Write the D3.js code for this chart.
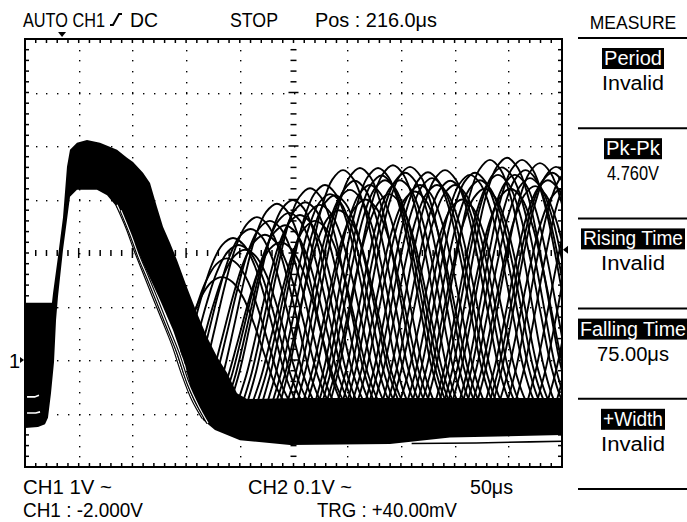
<!DOCTYPE html>
<html>
<head>
<meta charset="utf-8">
<style>
  body { margin: 0; background: #fff; }
  svg text { font-family: "Liberation Sans", Arimo, sans-serif; font-size: 20px; fill: #000; }
</style>
</head>
<body>
<svg id="scope" width="687" height="522"></svg>
<script src="https://cdn.jsdelivr.net/npm/d3@7/dist/d3.min.js"></script>
<script>
// time in us (50 us/div, 10 div across), CH1 in volts (1 V/div, ground 2 div under centre)
// persistence display: outer edge of the main pulse band, [t, V]
const envTop = [
  [0, 1.07], [25.1, 1.07], [26.1, 1.25], [30.7, 1.93], [35.4, 2.67], [39.1, 3.61],
  [41.9, 3.93], [48.4, 4.06], [57.7, 4.11], [69.8, 4.06], [85.7, 3.93], [95.0, 3.78],
  [100.6, 3.70], [109.9, 3.50], [116.4, 3.31], [122.9, 2.86], [128.5, 2.49], [135.0, 2.19],
  [141.5, 1.87], [150.8, 1.36], [160.1, 0.88], [169.5, 0.43], [178.8, 0.06], [188.1, -0.24],
  [197.4, -0.62], [206.7, -0.73], [256.1, -0.71], [500, -0.71]
];
// inner / lower edge of the same band
const envBottom = [
  [0, -1.27], [12.1, -1.25], [18.6, -1.20], [21.4, -1.08], [24.2, -0.62], [27.0, -0.04],
  [28.9, 0.75], [30.7, 1.18], [35.4, 2.06], [39.1, 2.62], [41.9, 3.05], [48.4, 3.18],
  [67.0, 3.18], [76.4, 3.08], [83.8, 2.90], [95.0, 2.52], [109.9, 1.81], [125.7, 1.12],
  [137.8, 0.56], [149.0, -0.09], [156.4, -0.69], [165.7, -1.12], [176.9, -1.31],
  [200.2, -1.50], [246.7, -1.59], [339.8, -1.57], [395.7, -1.45], [500, -1.40]
];
// two stray falling traces inside the arch
const strayA = [[85.7, 2.90], [95, 2.47], [102.4, 2.06], [109.9, 1.68], [119.2, 1.21],
  [128.5, 0.75], [137.8, 0.28], [147.1, -0.28], [156.4, -0.75], [165.7, -1.08]];
const strayB = [[89.4, 2.80], [98.7, 2.34], [106.1, 1.93], [114.5, 1.53], [123.8, 1.07],
  [133.1, 0.60], [142.5, 0.13], [151.8, -0.43], [161.1, -0.84], [170.4, -1.18]];
const lowTrace = [[360, -1.56], [420, -1.55], [470, -1.53], [500, -1.52]];
// gaps in the pre-trigger block
const gapA = [[1.9, -0.69], [9, -0.69], [13, -0.66]];
const gapB = [[1.9, -0.99], [10, -0.99], [14, -0.97]];

// ringing pulses on the right: peak time (us) and peak level (V)
const pulsePeakT = [193.7, 216.0, 234.6, 249.5, 265.4, 279.3, 296.1, 311.9, 328.7, 342.6,
  358.5, 375.2, 391.1, 414.3, 432.9, 448.8, 462.8, 479.5, 494.4,
  183.4, 204.8, 223.4, 242.1, 256.0, 274.6, 288.6, 302.6, 321.2, 335.2, 349.1,
  367.8, 383.6, 400.3, 423.6, 440.4, 456.2, 470.2, 486.9, 507.4, 526.0, 544.7,
  188, 199, 210, 228, 238, 246, 261, 270, 284, 292, 307, 317, 332, 339, 354,
  363, 379, 396, 407, 419, 428, 444, 452, 466, 475, 491, 500, 515, 535, 553];
const pulsePeakV = [2.28, 2.67, 2.92, 2.99, 3.21, 3.27, 3.55, 3.59, 3.59, 3.64,
  3.61, 3.51, 3.55, 3.46, 3.74, 3.78, 3.74, 3.68, 3.61,
  1.55, 2.06, 2.34, 2.52, 2.71, 2.90, 3.08, 3.18, 3.27, 3.36, 3.36,
  3.27, 3.27, 3.27, 3.36, 3.46, 3.46, 3.40, 3.36, 3.55, 3.46, 3.36,
  1.9, 2.15, 2.45, 2.6, 2.2, 2.75, 2.95, 2.6, 3.1, 2.8, 3.35, 3.0, 3.45, 3.1, 3.5,
  3.15, 3.4, 3.35, 3.0, 3.5, 3.2, 3.6, 3.2, 3.55, 3.25, 3.5, 3.2, 3.6, 3.5, 3.4];
// one pulse: offset from its peak (us) and fraction of its height
const pulseShapeDt = [-60, -50, -40, -30, -20, -10, 0, 10, 20, 30, 40, 50, 60, 66];
const pulseShapeH = [0, 0.17, 0.4, 0.64, 0.84, 0.96, 1, 0.96, 0.84, 0.64, 0.4, 0.17, 0.03, 0];
const pulseBase = -0.9;

const trigT = 34.5;
const trigLevel = 2.06;

const topLabels = ["AUTO  CH1", "DC", "STOP", "Pos : 216.0\u03bcs"];
const bottomLabels = ["CH1  1V ~", "CH2  0.1V ~", "50\u03bcs", "CH1 : -2.000V", "TRG : +40.00mV"];
const measureNames = ["Period", "Pk-Pk", "Rising Time", "Falling Time", "+Width"];
const measureValues = ["Invalid", "4.760V", "Invalid", "75.00\u03bcs", "Invalid"];

// layout
const topLayout = [[23, 82], [130, 28], [230, 48], [315, 122]];        // x, width
const bottomLayout = [[23, 494, 89], [248, 494, 104], [470, 494, 43], [23, 517, 120], [317, 517, 140]];
const nameWidths = [58, 54, 100, 106, 60];
const valueWidths = [62, 52, 64, 72, 64];

const svg = d3.select('#scope');
const x = d3.scaleLinear().domain([0, 500]).range([25, 562]);
const y = d3.scaleLinear().domain([-2, 6]).range([467, 39]);
const line = d3.line().x(d => x(d[0])).y(d => y(d[1]));
const smooth = d3.line().x(d => x(d[0])).y(d => y(d[1])).curve(d3.curveCatmullRom);

svg.append('rect').attr('width', 687).attr('height', 522).attr('fill', '#fff');

const defs = svg.append('defs');
defs.append('clipPath').attr('id', 'screen')
  .append('rect').attr('x', x(0)).attr('y', y(6)).attr('width', x(500) - x(0)).attr('height', y(-2) - y(6));
// pulses only show above the lower edge of the band
defs.append('clipPath').attr('id', 'above')
  .append('path').attr('d', line([[0, 6], [500, 6]].concat(envBottom.slice().reverse())) + 'Z');

// graticule
const grid = svg.append('g');
const minorT = d3.range(10, 500, 10);
const minorV = d3.range(-1.8, 5.9, 0.2);
[-1, 0, 1, 3, 4, 5].forEach(v => {
  grid.selectAll(null).data(minorT).enter().append('rect')
    .attr('x', d => Math.round(x(d))).attr('y', Math.round(y(v))).attr('width', 1.4).attr('height', 1.4);
});
[50, 100, 150, 200, 300, 350, 400, 450].forEach(t => {
  grid.selectAll(null).data(minorV).enter().append('rect')
    .attr('x', Math.round(x(t))).attr('y', d => Math.round(y(d))).attr('width', 1.4).attr('height', 1.4);
});
// centre axes with dashes
grid.selectAll(null).data(minorV).enter().append('line')
  .attr('x1', d => x(250) - (Math.abs(d - Math.round(d)) < 0.01 ? 5 : 3))
  .attr('x2', d => x(250) + (Math.abs(d - Math.round(d)) < 0.01 ? 5 : 3))
  .attr('y1', d => y(d)).attr('y2', d => y(d)).attr('stroke', '#000').attr('stroke-width', 1.5);
grid.selectAll(null).data(minorT).enter().append('line')
  .attr('y1', d => y(2) - (d % 50 === 0 ? 5 : 3))
  .attr('y2', d => y(2) + (d % 50 === 0 ? 5 : 3))
  .attr('x1', d => x(d)).attr('x2', d => x(d)).attr('stroke', '#000').attr('stroke-width', 1.5);

// edge ticks
const edge = svg.append('g').attr('stroke', '#000').attr('stroke-width', 1.5);
edge.selectAll(null).data(minorT).enter().append('line')
  .attr('x1', d => x(d)).attr('x2', d => x(d)).attr('y1', y(6)).attr('y2', y(6) + 4);
edge.selectAll(null).data(minorT).enter().append('line')
  .attr('x1', d => x(d)).attr('x2', d => x(d)).attr('y1', y(-2)).attr('y2', y(-2) - 4);
edge.selectAll(null).data(minorV).enter().append('line')
  .attr('y1', d => y(d)).attr('y2', d => y(d)).attr('x1', x(0)).attr('x2', x(0) + 4);
edge.selectAll(null).data(minorV).enter().append('line')
  .attr('y1', d => y(d)).attr('y2', d => y(d)).attr('x1', x(500)).attr('x2', x(500) - 4);

// traces
const trace = svg.append('g').attr('clip-path', 'url(#screen)');

trace.append('path')
  .attr('d', line(envTop.concat(envBottom.slice().reverse())) + 'Z')
  .attr('fill', '#000');
[gapA, gapB].forEach(g => {
  trace.append('path').attr('d', line(g)).attr('fill', 'none').attr('stroke', '#fff').attr('stroke-width', 1.6);
});

trace.append('g').attr('clip-path', 'url(#above)')
  .selectAll('.pulse').data(pulsePeakT).enter().append('path')
  .attr('class', 'pulse')
  .attr('d', (t, i) => smooth(pulseShapeDt.map((dt, k) =>
    [t + dt, pulseBase + pulseShapeH[k] * (pulsePeakV[i] - pulseBase)])))
  .attr('fill', 'none').attr('stroke', '#000').attr('stroke-width', 1.9);

[strayA, strayB].forEach(s => {
  trace.append('path').attr('d', smooth(s)).attr('fill', 'none').attr('stroke', '#000').attr('stroke-width', 3.4);
  trace.append('path').attr('d', smooth(s)).attr('fill', 'none').attr('stroke', '#fff').attr('stroke-width', 1.1);
});
trace.append('path').attr('d', line(lowTrace)).attr('fill', 'none').attr('stroke', '#000').attr('stroke-width', 1.6);

// frame
svg.append('rect').attr('x', x(0)).attr('y', y(6)).attr('width', x(500) - x(0)).attr('height', y(-2) - y(6))
  .attr('fill', 'none').attr('stroke', '#000').attr('stroke-width', 2);

// markers
svg.append('path')
  .attr('d', `M${x(trigT) - 4},${y(6) - 7}h8l-4,5z`).attr('fill', '#000');
svg.append('path')
  .attr('d', `M${x(500) + 1},${y(trigLevel)}l5,-4v8z`).attr('fill', '#000');
svg.append('path')
  .attr('d', `M${x(0) - 5},${y(0) - 3}l4,3l-4,3z`).attr('fill', '#000');
svg.append('text').attr('x', 9).attr('y', y(0) + 8).text('1');

// header
const fit = (sel, w) => sel.attr('textLength', w).attr('lengthAdjust', 'spacingAndGlyphs');
topLabels.forEach((s, i) => {
  fit(svg.append('text').attr('x', topLayout[i][0]).attr('y', 27).text(s), topLayout[i][1]);
});
// rising edge trigger glyph
svg.append('path').attr('d', 'M110,25h3l6,-11h3').attr('fill', 'none').attr('stroke', '#000').attr('stroke-width', 2);

bottomLabels.forEach((s, i) => {
  fit(svg.append('text').attr('x', bottomLayout[i][0]).attr('y', bottomLayout[i][1]).text(s), bottomLayout[i][2]);
});

// measure panel
const panelX = 633;
svg.append('text').attr('x', panelX).attr('y', 29).attr('text-anchor', 'middle')
  .style('font-size', '17.5px').text('MEASURE');
const sepY = d3.range(6).map(i => 38 + i * 90.2);
svg.selectAll('.sep').data(sepY).enter().append('line').attr('class', 'sep')
  .attr('x1', 578).attr('x2', 687).attr('y1', d => d).attr('y2', d => d)
  .attr('stroke', '#000').attr('stroke-width', 2);
measureNames.forEach((name, i) => {
  const s = sepY[i];
  svg.append('rect').attr('x', panelX - nameWidths[i] / 2 - 2).attr('y', s + 10)
    .attr('width', nameWidths[i] + 4).attr('height', 21).attr('fill', '#000');
  fit(svg.append('text').attr('x', panelX - nameWidths[i] / 2).attr('y', s + 27)
    .style('fill', '#fff').text(name), nameWidths[i]);
  fit(svg.append('text').attr('x', panelX - valueWidths[i] / 2).attr('y', s + 52)
    .text(measureValues[i]), valueWidths[i]);
});
</script>
</body>
</html>
